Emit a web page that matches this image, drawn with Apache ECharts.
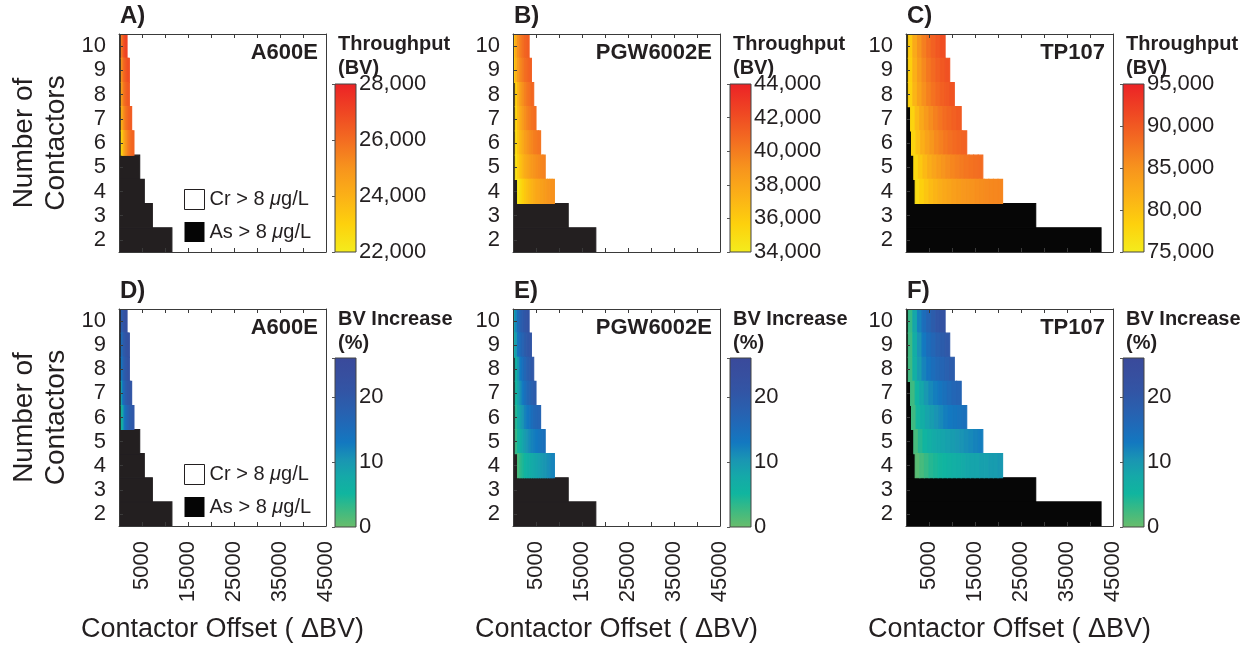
<!DOCTYPE html>
<html><head><meta charset="utf-8">
<script src="https://cdn.jsdelivr.net/npm/echarts@6/dist/echarts.min.js"></script>
<style>html,body{margin:0;padding:0;background:#fff}#c{width:1247px;height:646px}</style>
</head><body><div id="c"></div>
<script>
// ---------------- DATA ----------------
const contactors = ['2','3','4','5','6','7','8','9','10'];
const offsetMax = 45000;
const offsetTickStep = 5000;
const offsetTickLabels = ['5000','15000','25000','35000','45000'];
const filterNames = ['A600E','PGW6002E','TP107'];
const topLetters = ['A)','B)','C)'];
const bottomLetters = ['D)','E)','F)'];
const crName = 'Cr > 8 μg/L';
const asName = 'As > 8 μg/L';

// A600E
const a600eStep = 250;
const a600eRows = [10, 9, 8, 7, 6];
const a600eStart = [500, 500, 500, 500, 500];
const a600eThroughput = [
  [25600, 26200, 26600, 26900, 27100],
  [25000, 25600, 26000, 26300, 26500, 26700, 26800],
  [24600, 25200, 25700, 26000, 26200, 26400, 26500],
  [24000, 24600, 25100, 25500, 25800, 26000, 26200, 26300, 26400],
  [22800, 23500, 24100, 24600, 25000, 25300, 25600, 25800, 26000, 26100, 26200]
];
const a600eIncrease = [
  [18, 20, 21, 22, 22.5],
  [15, 17.5, 19, 20, 21, 21.5, 22],
  [13, 16, 18, 19, 20, 21, 21.5],
  [9, 13, 15.5, 17, 18.5, 19.5, 20, 20.5, 21],
  [5, 8, 11, 13.5, 15, 16.5, 17.5, 18.5, 19, 19.5, 20]
];
const a600eAsEnd = [11500, 7250, 5500, 4500, 500, 500, 500, 500, 500]; // contactors 2..10

// PGW6002E
const pgwStep = 500;
const pgwRows = [10, 9, 8, 7, 6, 5, 4];
const pgwStart = [0, 0, 500, 500, 500, 500, 1000];
const pgwThroughput = [
  [36000, 38000, 39200, 40000, 40600, 41000, 41300],
  [35600, 37400, 38600, 39500, 40100, 40600, 40900, 41200],
  [35800, 37300, 38400, 39200, 39800, 40300, 40600, 40900],
  [35400, 36800, 37800, 38600, 39200, 39700, 40100, 40400, 40600],
  [35000, 36200, 37100, 37800, 38400, 38900, 39300, 39600, 39900, 40100, 40300],
  [34700, 35700, 36500, 37100, 37600, 38000, 38400, 38700, 39000, 39200, 39400, 39600, 39700],
  [34400, 35100, 35700, 36200, 36600, 37000, 37300, 37600, 37900, 38100, 38300, 38500, 38700, 38900, 39000, 39100]
];
const pgwIncrease = [
  [7, 12, 15.5, 18, 19.5, 20.5, 21.5],
  [5.5, 10, 13.5, 16, 17.5, 19, 20, 21],
  [6, 10, 13, 15, 16.5, 18, 19, 20],
  [5, 8.5, 11, 13, 14.5, 16, 17, 18, 19],
  [4, 7, 9, 10.5, 12, 13, 14, 15, 16, 16.5, 17],
  [3, 5, 7, 8.5, 9.5, 10.5, 11.5, 12, 12.5, 13, 13.5, 14, 14.5],
  [2, 3.5, 4.5, 5.5, 6.5, 7, 7.5, 8, 8.5, 9, 9.5, 10, 10.5, 11, 11.5, 12]
];
const pgwAsEnd = [18000, 12000, 1000, 500, 500, 500, 500, 0, 0];

// TP107
const tpStep = 1000;
const tpRows = [10, 9, 8, 7, 6, 5, 4];
const tpStart = [500, 500, 500, 1000, 1200, 1700, 2000];
const tpThroughput = [
  [79000, 82500, 85000, 86800, 88200, 89300, 90200, 91000],
  [78500, 81800, 84200, 86000, 87400, 88500, 89400, 90100, 90700],
  [78200, 81200, 83500, 85300, 86700, 87800, 88700, 89400, 90000, 90500],
  [78000, 80600, 82700, 84300, 85600, 86700, 87600, 88300, 88900, 89400, 89800],
  [77800, 80000, 81900, 83400, 84700, 85800, 86700, 87400, 88000, 88500, 88900, 89200],
  [77500, 79300, 80800, 82100, 83200, 84100, 84900, 85600, 86200, 86700, 87100, 87500, 87800, 88100, 88300],
  [77000, 78400, 79600, 80600, 81400, 82100, 82700, 83200, 83700, 84100, 84500, 84800, 85100, 85400, 85600, 85800, 86000, 86100, 86200]
];
const tpIncrease = [
  [3, 8, 12, 15, 17, 19, 20.5, 22],
  [2.5, 7, 10.5, 13, 15, 16.5, 18, 19, 20],
  [2.5, 6.5, 9.5, 12, 13.5, 15, 16, 17, 18, 19],
  [2.5, 5.5, 8, 10, 11.5, 12.5, 13.5, 14.5, 15.5, 16.5, 17],
  [2.5, 5, 7, 8.5, 9.5, 10.5, 11.5, 12.5, 13, 13.5, 14, 14.5],
  [2, 4, 5.5, 6.5, 7.5, 8, 8.5, 9, 9.5, 10, 10.5, 11, 11.5, 12, 12.5],
  [1, 2, 3, 4, 4.5, 5, 5.5, 6, 6.5, 7, 7.5, 8, 8.5, 8.5, 9, 9, 9.5, 9.5, 10]
];
const tpAsEnd = [42400, 28200, 2000, 1700, 1200, 1000, 500, 500, 500];

// colour bars
const a600eTputRange = [22000, 28000];
const a600eTputTicks = [22000, 24000, 26000, 28000];
const a600eTputTickLabels = ['22,000', '24,000', '26,000', '28,000'];
const pgwTputRange = [34000, 44000];
const pgwTputTicks = [34000, 36000, 38000, 40000, 42000, 44000];
const pgwTputTickLabels = ['34,000', '36,000', '38,000', '40,000', '42,000', '44,000'];
const tpTputRange = [75000, 95000];
const tpTputTicks = [75000, 80000, 85000, 90000, 95000];
const tpTputTickLabels = ['75,000', '80,00', '85,000', '90,000', '95,000'];
const incRange = [0, 26];
const incTicks = [0, 10, 20];
const incTickLabels = ['0', '10', '20'];

// ---------------- STYLE / LAYOUT ----------------
const FONT = '"Liberation Sans", Arial, Helvetica, sans-serif';
const INK = '#231f20';
const AX = '#3a3a3a';
const tputColors = ['#f4ec1d','#fdd10d','#fbb117','#f7941d','#f36c21','#ef4623','#ec2226'];
const incColors = ['#6abd6b','#3dba82','#10b59f','#15a9a8','#1a95b3','#1378c0','#1f6ab8','#2a5fae','#3255a5','#374f9f','#3a4a9b'];
const colLeft = [119, 513, 906];
const plotW = 207;
const rowTop = [34, 309];
const plotH = [218, 217];
const cbLeft = [335, 730, 1123];
const cbW = 21;
const cbTop = [84, 358];
const cbBottom = [252, 527];

const filters = [
  {step: a600eStep, rows: a600eRows, start: a600eStart, tput: a600eThroughput, inc: a600eIncrease, asEnd: a600eAsEnd,
   tRange: a600eTputRange, tTicks: a600eTputTicks, tLabels: a600eTputTickLabels, tInterval: 2000, black: '#231f20'},
  {step: pgwStep, rows: pgwRows, start: pgwStart, tput: pgwThroughput, inc: pgwIncrease, asEnd: pgwAsEnd,
   tRange: pgwTputRange, tTicks: pgwTputTicks, tLabels: pgwTputTickLabels, tInterval: 2000, black: '#231f20'},
  {step: tpStep, rows: tpRows, start: tpStart, tput: tpThroughput, inc: tpIncrease, asEnd: tpAsEnd,
   tRange: tpTputRange, tTicks: tpTputTicks, tLabels: tpTputTickLabels, tInterval: 5000, black: '#060606'}
];

function cellRender(useVisual, fixedColor) {
  return function (params, api) {
    const y = api.value(1);
    const p0 = api.coord([api.value(0), y]);
    const p1 = api.coord([api.value(3), y]);
    const h = api.size([0, 1])[1];
    const color = useVisual ? api.visual('color') : fixedColor;
    return {type: 'rect', shape: {x: p0[0], y: p0[1] - h / 2, width: p1[0] - p0[0], height: h},
            style: {fill: color, stroke: color, lineWidth: 1.1}};
  };
}

const option = {animation: false, backgroundColor: '#fff', grid: [], xAxis: [], yAxis: [], series: [], visualMap: [], title: [], legend: []};

for (let r = 0; r < 2; r++) {
  for (let c = 0; c < 3; c++) {
    const f = filters[c];
    const isTop = r === 0;
    const gMain = option.grid.length;
    option.grid.push({left: colLeft[c], top: rowTop[r], width: plotW, height: plotH[r]});
    const gCb = option.grid.length;
    option.grid.push({left: cbLeft[c], top: cbTop[r], width: cbW, height: cbBottom[r] - cbTop[r]});

    const xb = option.xAxis.length;
    option.xAxis.push({gridIndex: gMain, type: 'value', min: 0, max: offsetMax, interval: offsetTickStep, position: 'bottom', z: 5,
      axisLine: {show: true, onZero: false, lineStyle: {color: AX, width: 1}},
      axisTick: {show: true, inside: true, length: 4, lineStyle: {color: AX}},
      splitLine: {show: false},
      axisLabel: {show: !isTop, rotate: 90, margin: 15, fontSize: 22, color: INK, fontFamily: FONT,
        formatter: v => offsetTickLabels.indexOf(String(v)) >= 0 ? String(v) : ''},
      name: isTop ? '' : 'Contactor Offset ( ΔBV)', nameLocation: 'middle', nameGap: 90,
      nameTextStyle: {fontSize: 27, color: INK, fontFamily: FONT}});
    option.xAxis.push({gridIndex: gMain, type: 'value', min: 0, max: offsetMax, interval: offsetTickStep, position: 'top', z: 5,
      axisLine: {show: true, onZero: false, lineStyle: {color: AX, width: 1}},
      axisTick: {show: true, inside: true, length: 4, lineStyle: {color: AX}},
      splitLine: {show: false}, axisLabel: {show: false}});
    const yl = option.yAxis.length;
    option.yAxis.push({gridIndex: gMain, type: 'category', data: contactors, position: 'left', z: 5,
      axisLine: {show: true, onZero: false, lineStyle: {color: AX, width: 1}},
      axisTick: {show: true, inside: true, alignWithLabel: true, interval: 0, length: 4, lineStyle: {color: AX}},
      axisLabel: {interval: 0, fontSize: 22, margin: 13, color: INK, fontFamily: FONT},
      splitLine: {show: false},
      name: c === 0 ? 'Number of\nContactors' : '', nameLocation: 'middle', nameGap: 47, nameRotate: 90,
      nameTextStyle: {fontSize: 28, lineHeight: 32, color: INK, fontFamily: FONT}});
    option.yAxis.push({gridIndex: gMain, type: 'category', data: contactors, position: 'right', z: 5,
      axisLine: {show: true, onZero: false, lineStyle: {color: AX, width: 1}},
      axisTick: {show: false}, axisLabel: {show: false}, splitLine: {show: false}});

    const range = isTop ? f.tRange : incRange;
    const ticks = isTop ? f.tTicks : incTicks;
    const labels = isTop ? f.tLabels : incTickLabels;
    const colors = isTop ? tputColors : incColors;
    const xc = option.xAxis.length;
    option.xAxis.push({gridIndex: gCb, type: 'value', min: 0, max: 1, show: false});
    const yc = option.yAxis.length;
    option.yAxis.push({gridIndex: gCb, type: 'value', min: range[0], max: range[1], interval: isTop ? f.tInterval : 10,
      position: 'right', z: 5,
      axisLine: {show: false},
      axisTick: {show: true, inside: true, length: 3, lineStyle: {color: '#555'}},
      splitLine: {show: false},
      axisLabel: {margin: 3, fontSize: 22, color: INK, fontFamily: FONT, padding: [5, 0, 0, 0],
        formatter: v => { const i = ticks.indexOf(v); return i >= 0 ? labels[i] : ''; }}});

    // As > 8 region
    option.series.push({type: 'custom', name: asName, xAxisIndex: xb, yAxisIndex: yl, clip: true, z: 2,
      itemStyle: {color: f.black}, renderItem: cellRender(false, f.black),
      encode: {x: [0, 3], y: 1},
      data: f.asEnd.map((e, i) => [0, i, 0, e]).filter(d => d[3] > 0)});

    // feasible cells
    const vals = isTop ? f.tput : f.inc;
    const data = [];
    f.rows.forEach((n, k) => {
      const idx = contactors.indexOf(String(n));
      vals[k].forEach((v, j) => data.push([f.start[k] + j * f.step, idx, v, f.start[k] + (j + 1) * f.step]));
    });
    const si = option.series.length;
    option.series.push({type: 'custom', name: 'cells' + r + c, xAxisIndex: xb, yAxisIndex: yl, clip: true, z: 3,
      renderItem: cellRender(true), encode: {x: [0, 3], y: 1}, data: data});
    option.visualMap.push({type: 'continuous', show: false, seriesIndex: si, dimension: 2,
      min: range[0], max: range[1], inRange: {color: colors}});

    // colour bar
    const stops = colors.map((col, i) => ({offset: i / (colors.length - 1), color: col}));
    option.series.push({type: 'custom', name: 'cb' + r + c, xAxisIndex: xc, yAxisIndex: yc, silent: true, z: 2,
      data: [[0, range[0], 1, range[1]]],
      renderItem: (params, api) => {
        const a = api.coord([api.value(0), api.value(3)]);
        const b = api.coord([api.value(2), api.value(1)]);
        return {type: 'rect', shape: {x: a[0], y: a[1], width: b[0] - a[0], height: b[1] - a[1]},
          style: {fill: {type: 'linear', x: 0, y: 1, x2: 0, y2: 0, colorStops: stops}, stroke: '#444', lineWidth: 1}};
      }});

    if (c === 0) {
      option.series.push({type: 'custom', name: crName, xAxisIndex: xb, yAxisIndex: yl, data: [],
        itemStyle: {color: '#fff', borderColor: INK, borderWidth: 1}, renderItem: () => null});
      option.legend.push({orient: 'vertical', left: 184, top: rowTop[r] + 155, itemWidth: 20, itemHeight: 20, itemGap: 12,
        padding: 0, selectedMode: false,
        data: [{name: crName, icon: 'rect', itemStyle: {color: '#fff', borderColor: INK, borderWidth: 1}},
               {name: asName, icon: 'rect', itemStyle: {color: '#050505', borderWidth: 0}}],
        formatter: n => n.replace('μ', '{i|μ}'),
        textStyle: {fontSize: 20, color: INK, fontFamily: FONT,
          rich: {i: {fontStyle: 'italic', fontSize: 20, color: INK, fontFamily: FONT}}}});
    }

    // titles
    option.title.push({text: isTop ? topLetters[c] : bottomLetters[c], left: colLeft[c] + 1, top: rowTop[r] - 30, padding: 0,
      textStyle: {fontSize: 24, fontWeight: 'bold', color: INK, fontFamily: FONT}});
    option.title.push({text: filterNames[c], right: 1247 - (colLeft[c] + plotW - 8), top: rowTop[r] + 8, padding: 0,
      textStyle: {fontSize: 22, fontWeight: 'bold', color: INK, fontFamily: FONT}});
    option.title.push({text: isTop ? 'Throughput\n(BV)' : 'BV Increase\n(%)', left: cbLeft[c] + 3, top: rowTop[r] - 2, padding: 0,
      textStyle: {fontSize: 20, fontWeight: 'bold', lineHeight: 24, color: INK, fontFamily: FONT}});
  }
}

const chart = echarts.init(document.getElementById('c'), null, {renderer: 'canvas'});
chart.setOption(option);
</script></body></html>
